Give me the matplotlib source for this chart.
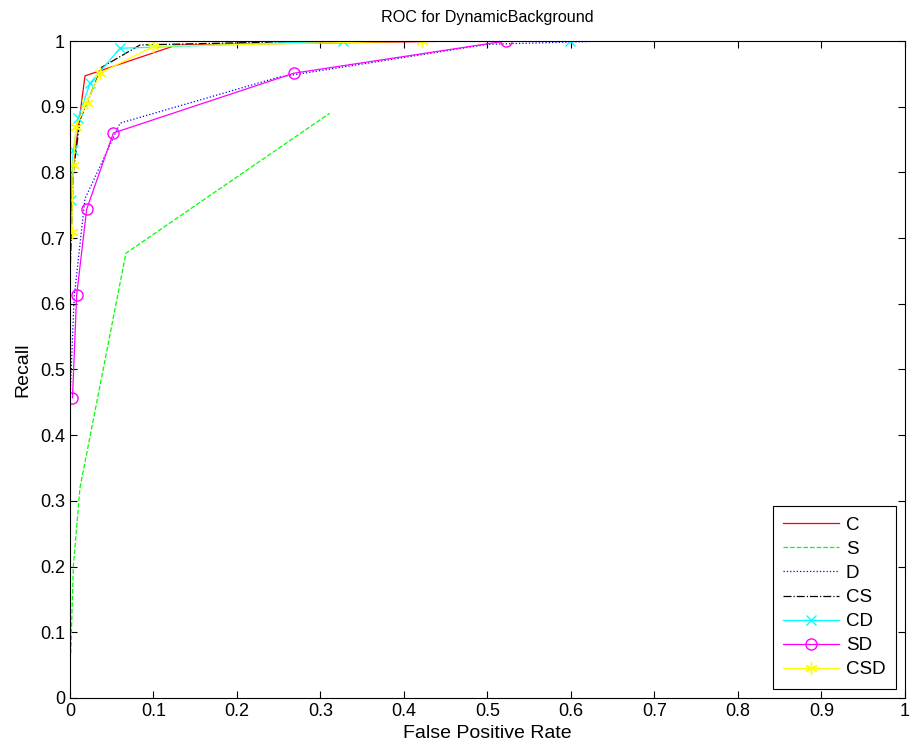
# ROC curves for DynamicBackground
import matplotlib
matplotlib.use('Agg')
import matplotlib.pyplot as plt

plt.rcParams['font.family'] = ['Liberation Sans', 'DejaVu Sans']

# data
c_fpr = [0.0, 0.003, 0.018, 0.128, 0.473]
c_rec = [0.70, 0.80, 0.947, 0.994, 1.0]

s_fpr = [0.001, 0.004, 0.012, 0.067, 0.311]
s_rec = [0.068, 0.20, 0.32, 0.677, 0.890]

d_fpr = [0.0, 0.005, 0.018, 0.06, 0.25, 0.50, 0.644]
d_rec = [0.45, 0.61, 0.76, 0.875, 0.945, 0.995, 1.0]

cs_fpr = [0.0, 0.004, 0.012, 0.038, 0.084, 0.30]
cs_rec = [0.64, 0.80, 0.88, 0.96, 0.994, 1.0]

cd_fpr = [0.001, 0.004, 0.010, 0.024, 0.060, 0.327, 0.599]
cd_rec = [0.758, 0.834, 0.883, 0.936, 0.989, 1.0, 1.0]

sd_fpr = [0.003, 0.008, 0.020, 0.052, 0.268, 0.522]
sd_rec = [0.457, 0.613, 0.744, 0.860, 0.951, 1.0]

csd_fpr = [0.002, 0.004, 0.007, 0.020, 0.036, 0.100, 0.422]
csd_rec = [0.709, 0.811, 0.869, 0.906, 0.951, 0.992, 1.0]

fig = plt.figure(figsize=(9.11, 7.54), dpi=100)
ax = fig.add_axes([0.0768, 0.0743, 0.9166, 0.8713])

lw = 0.9
ax.plot(c_fpr, c_rec, color='#ff0000', linestyle='-', lw=lw, label='C')
ax.plot(s_fpr, s_rec, color='#00ff00', linestyle='--', lw=lw, label='S')
ax.plot(d_fpr, d_rec, color='#0000ff', linestyle=':', lw=lw, label='D')
ax.plot(cs_fpr, cs_rec, color='k', linestyle='-.', lw=lw, label='CS')
ax.plot(cd_fpr, cd_rec, color='#00ffff', linestyle='-', lw=lw, marker='x',
        markersize=7, label='CD')
ax.plot(sd_fpr, sd_rec, color='#ff00ff', linestyle='-', lw=lw, marker='o',
        markersize=8, markerfacecolor='none', label='SD')
ax.plot(csd_fpr, csd_rec, color='#ffff00', linestyle='-', lw=lw, marker=(6, 2, 0),
        markersize=9, label='CSD')

ax.set_xlim(0, 1)
ax.set_ylim(0, 1)
ticks = [i / 10 for i in range(11)]
labels = ['0'] + ['%.1f' % t for t in ticks[1:-1]] + ['1']
ax.set_xticks(ticks)
ax.set_xticklabels(labels)
ax.set_yticks(ticks)
ax.set_yticklabels(labels)
ax.tick_params(direction='in', top=True, right=True, labelsize=13, length=5)

ax.set_title('ROC for DynamicBackground', fontsize=11.6, pad=14)
ax.set_xlabel('False Positive Rate', fontsize=14, labelpad=4)
ax.set_ylabel('Recall', fontsize=14, labelpad=6)

leg = ax.legend(loc='lower right', numpoints=1, fontsize=13.5, fancybox=False,
                edgecolor='k', framealpha=1, handlelength=3.0, handletextpad=0.35,
                borderaxespad=0.5, borderpad=0.55, labelspacing=0.37)
leg.get_frame().set_linewidth(0.8)

fig.savefig('out.png', dpi=100)
